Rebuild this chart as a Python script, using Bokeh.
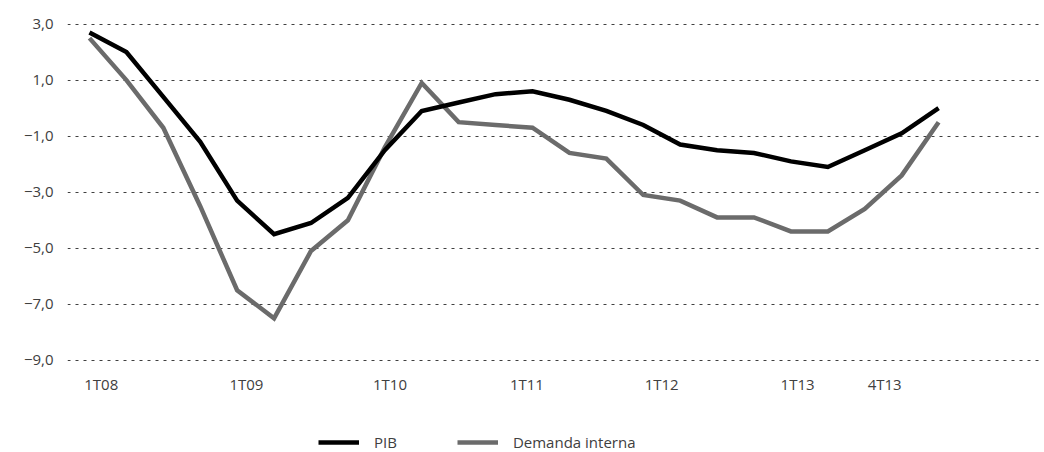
from bokeh.plotting import figure
from bokeh.models import Range1d, FixedTicker, Legend, LegendItem, ColumnDataSource
from bokeh.layouts import column
from bokeh.embed import file_html
from bokeh.resources import INLINE

# ---- data ----
quarters = ["1T08", "2T08", "3T08", "4T08",
            "1T09", "2T09", "3T09", "4T09",
            "1T10", "2T10", "3T10", "4T10",
            "1T11", "2T11", "3T11", "4T11",
            "1T12", "2T12", "3T12", "4T12",
            "1T13", "2T13", "3T13", "4T13"]
pib = [2.7, 2.0, 0.4, -1.2, -3.3, -4.5, -4.1, -3.2, -1.5, -0.1, 0.2, 0.5,
       0.6, 0.3, -0.1, -0.6, -1.3, -1.5, -1.6, -1.9, -2.1, -1.5, -0.9, 0.0]
demanda = [2.5, 1.0, -0.7, -3.5, -6.5, -7.5, -5.1, -4.0, -1.4, 0.9, -0.5, -0.6,
           -0.7, -1.6, -1.8, -3.1, -3.3, -3.9, -3.9, -4.4, -4.4, -3.6, -2.4, -0.5]
shown_labels = ["1T08", "1T09", "1T10", "1T11", "1T12", "1T13", "4T13"]
y_ticks = [-9, -7, -5, -3, -1, 1, 3]

# label placement (as in the reference, labels sit slightly off the quarter points)
label_offsets = [0.32, 4.25, 8.14, 11.85, 15.5, 19.18, 21.54]

xs = list(range(len(quarters)))
src = ColumnDataSource(dict(x=xs, pib=pib, dem=demanda, q=quarters))

TEXT = "#404040"
FONT = "Open Sans"
C_PIB = "#000000"
C_DEM = "#6b6b6b"
LW = 4.5

p = figure(width=1044, height=418,
           x_range=Range1d(-0.595, 25.76), y_range=Range1d(-9.4, 3.2),
           output_backend="svg", toolbar_location=None,
           min_border_left=67, min_border_right=4,
           min_border_top=18, min_border_bottom=47)
p.outline_line_color = None
p.background_fill_color = "white"
p.border_fill_color = "white"

r_dem = p.line("x", "dem", source=src, line_color=C_DEM, line_width=LW,
               line_join="miter")
r_pib = p.line("x", "pib", source=src, line_color=C_PIB, line_width=LW,
               line_join="miter")

# x axis
p.xaxis.ticker = FixedTicker(ticks=label_offsets)
p.xaxis.major_label_overrides = {t: l for t, l in zip(label_offsets, shown_labels)}
p.xaxis.axis_line_color = None
p.xaxis.major_tick_line_color = None
p.xaxis.major_tick_out = 0
p.xaxis.major_tick_in = 0
p.xaxis.minor_tick_line_color = None
p.xaxis.major_label_standoff = 2
p.xaxis.major_label_text_font = FONT
p.xaxis.major_label_text_font_size = "15px"
p.xaxis.major_label_text_color = TEXT

# y axis
p.yaxis.ticker = FixedTicker(ticks=y_ticks)
p.yaxis.major_label_overrides = {
    t: f"{t:.1f}".replace(".", ",").replace("-", "\u2212") for t in y_ticks}
p.yaxis.axis_line_color = None
p.yaxis.major_tick_line_color = None
p.yaxis.major_tick_out = 0
p.yaxis.major_tick_in = 0
p.yaxis.minor_tick_line_color = None
p.yaxis.major_label_standoff = 14
p.yaxis.major_label_text_font = FONT
p.yaxis.major_label_text_font_size = "15px"
p.yaxis.major_label_text_color = TEXT

p.xgrid.grid_line_color = None
p.ygrid.ticker = FixedTicker(ticks=y_ticks)
p.ygrid.grid_line_color = "#404040"
p.ygrid.grid_line_dash = "3 5"
p.ygrid.grid_line_width = 1

# legend strip below the chart (its lines lie outside its visible range)
lg = figure(width=1044, height=34, x_range=Range1d(0, 1), y_range=Range1d(0, 1),
            output_backend="svg", toolbar_location=None,
            min_border_left=67, min_border_right=4, min_border_top=0,
            min_border_bottom=0)
lg.outline_line_color = None
lg.axis.visible = False
lg.grid.visible = False
l_pib = lg.line(x=[5, 6], y=[5, 5], line_color=C_PIB, line_width=LW)
l_dem = lg.line(x=[5, 6], y=[5, 5], line_color=C_DEM, line_width=LW)
legend = Legend(items=[LegendItem(label="PIB", renderers=[l_pib]),
                       LegendItem(label="Demanda interna", renderers=[l_dem])],
                orientation="horizontal", location=(251, 0),
                glyph_width=41, glyph_height=20, label_standoff=15, spacing=60,
                padding=0, margin=0, border_line_color=None,
                background_fill_alpha=0,
                label_text_font=FONT, label_text_font_size="15px",
                label_text_color=TEXT)
lg.add_layout(legend)

layout = column(p, lg, spacing=0)
open("out.html", "w").write(file_html(layout, INLINE))
